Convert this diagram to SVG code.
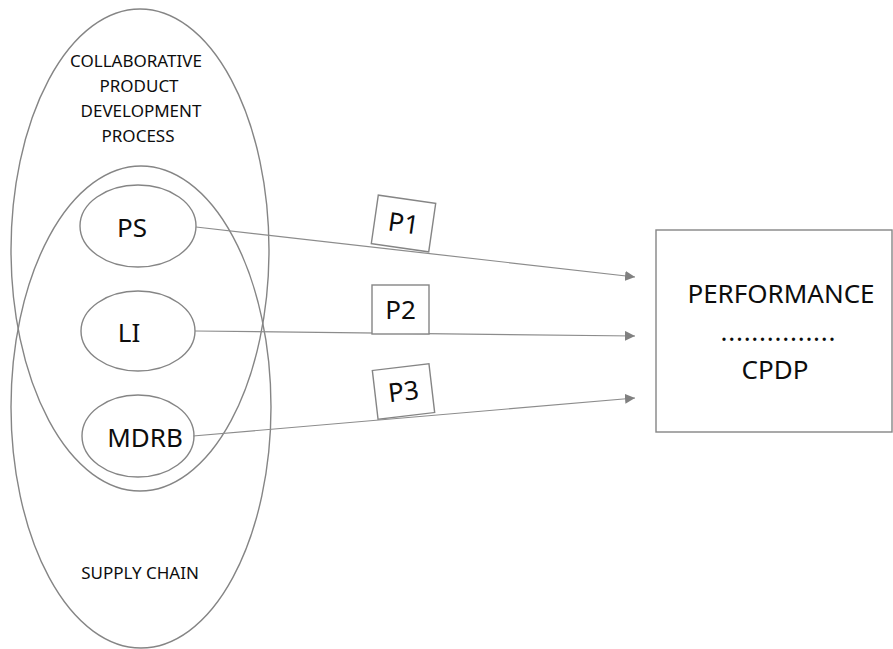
<svg xmlns="http://www.w3.org/2000/svg" width="893" height="649" viewBox="0 0 893 649">
  <style>
    .shape { fill: none; stroke: #858585; stroke-width: 1.4; }
    .node { fill: #ffffff; stroke: #858585; stroke-width: 1.4; }
    .edge { fill: none; stroke: #8c8c8c; stroke-width: 1.2; }
    .lbl { font-family: "Noto Sans", "Open Sans", sans-serif; fill: #0d0d0d; text-anchor: middle; }
    .small { font-size: 17px; }
    .big { font-size: 26px; }
  </style>
  <defs>
    <marker id="arrow" viewBox="0 0 10 10" refX="10" refY="5" markerWidth="10" markerHeight="10" markerUnits="userSpaceOnUse" orient="auto">
      <path d="M0,0 L10,5 L0,10 z" fill="#808080"/>
    </marker>
  </defs>

  <rect width="893" height="649" fill="#ffffff"/>

  <!-- overlapping domains -->
  <g id="cpdp-process">
    <ellipse class="shape" cx="140" cy="250" rx="129" ry="241"/>
    <text class="lbl small" x="136" y="67">COLLABORATIVE</text>
    <text class="lbl small" x="139" y="92">PRODUCT</text>
    <text class="lbl small" x="141" y="117">DEVELOPMENT</text>
    <text class="lbl small" x="138" y="142">PROCESS</text>
  </g>
  <g id="supply-chain">
    <ellipse class="shape" cx="141" cy="407" rx="130" ry="241"/>
    <text class="lbl small" x="140" y="579">SUPPLY CHAIN</text>
  </g>

  <!-- factors -->
  <g id="ps">
    <ellipse class="node" cx="138" cy="226" rx="58" ry="41"/>
    <text class="lbl big" x="132" y="237">PS</text>
  </g>
  <g id="li">
    <ellipse class="node" cx="138" cy="331" rx="57" ry="40"/>
    <text class="lbl big" x="129" y="342">LI</text>
  </g>
  <g id="mdrb">
    <ellipse class="node" cx="138" cy="436" rx="56" ry="41"/>
    <text class="lbl big" x="145" y="447">MDRB</text>
  </g>

  <!-- propositions linking factors to performance -->
  <g id="connectors">
    <line class="edge" x1="196" y1="227" x2="635" y2="277" marker-end="url(#arrow)"/>
    <line class="edge" x1="195" y1="331" x2="635" y2="336" marker-end="url(#arrow)"/>
    <line class="edge" x1="193" y1="436" x2="635" y2="398" marker-end="url(#arrow)"/>
  </g>

  <g id="p1" transform="translate(403.5,223.5) rotate(8.2)">
    <rect class="node" x="-29" y="-24.5" width="58" height="49"/>
    <text class="lbl big" x="0" y="9">P1</text>
  </g>
  <g id="p2" transform="translate(400.5,309.5)">
    <rect class="node" x="-28.5" y="-24.5" width="57" height="49"/>
    <text class="lbl big" x="0" y="9">P2</text>
  </g>
  <g id="p3" transform="translate(403.5,391.5) rotate(-6.7)">
    <rect class="node" x="-28.5" y="-24.5" width="57" height="49"/>
    <text class="lbl big" x="0" y="9">P3</text>
  </g>

  <!-- outcome -->
  <g id="performance">
    <rect class="node" x="656" y="230" width="236" height="202"/>
    <text class="lbl big" x="781" y="303">PERFORMANCE</text>
    <text class="lbl big" x="778" y="341" textLength="115" lengthAdjust="spacing">...............</text>
    <text class="lbl big" x="775" y="379">CPDP</text>
  </g>
</svg>
